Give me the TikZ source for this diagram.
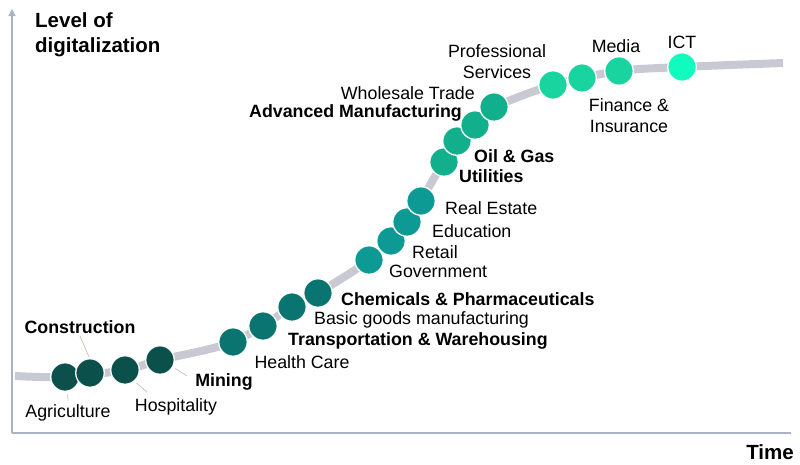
\documentclass[tikz,border=0pt]{standalone}
\usepackage{fontspec}
\setmainfont{Liberation Sans}
\usetikzlibrary{arrows.meta}
\definecolor{axisgray}{HTML}{A6B4C4}
\definecolor{trackgray}{HTML}{C9C9D3}
\definecolor{leadgray}{HTML}{C8C8C0}
\definecolor{stageA}{HTML}{0B504A}
\definecolor{stageB}{HTML}{0A7570}
\definecolor{stageC}{HTML}{0E9A94}
\definecolor{stageD}{HTML}{12AF8C}
\definecolor{stageE}{HTML}{19D49F}
\definecolor{stageF}{HTML}{12FBBE}
\begin{document}
\begin{tikzpicture}[x=1pt,y=-1pt,
  axis/.style={draw=axisgray, line width=1.4pt},
  track/.style={draw=trackgray, line width=8pt},
  dot/.style={circle, minimum size=28.5pt, inner sep=0pt, draw=white, line width=1.3pt},
  lab/.style={inner sep=0pt, yshift=-1.2pt, font=\fontsize{17.8}{21}\selectfont},
  blab/.style={lab, font=\fontsize{17.8}{21}\selectfont\bfseries},
  head/.style={inner sep=0pt, font=\fontsize{20.5}{25}\selectfont\bfseries},
  leader/.style={draw=leadgray, line width=0.8pt}]
\useasboundingbox (0,0) rectangle (800,464);

% axes
\coordinate (origin) at (12,433);
\coordinate (ytop) at (12,9);
\coordinate (xend) at (791,433);
\draw[axis, -{Triangle[width=7pt,length=7pt]}] (origin) -- (ytop);
\draw[axis] (origin) -- (xend);

% adoption curve
\draw[track] plot[smooth, tension=0.5] coordinates {
  (15,376) (65,377) (125,370) (160,360) (233,342) (292,307) (318,293)
  (369,260) (407,222) (421,201) (444,162) (475,125) (495,107)
  (553,85) (619,71) (682,67) (783,63)};

% sectors along the curve
\node[dot, fill=stageA] (c1) at (65,377) {};
\node[dot, fill=stageA] (c2) at (90,373) {};
\node[dot, fill=stageA] (c3) at (125,370) {};
\node[dot, fill=stageA] (c4) at (160,360) {};
\node[dot, fill=stageB] (c5) at (233,342) {};
\node[dot, fill=stageB] (c6) at (263,326) {};
\node[dot, fill=stageB] (c7) at (292,307) {};
\node[dot, fill=stageB] (c8) at (318,293) {};
\node[dot, fill=stageC] (c9) at (369,260) {};
\node[dot, fill=stageC] (c10) at (391,241) {};
\node[dot, fill=stageC] (c11) at (407,222) {};
\node[dot, fill=stageC] (c12) at (421,201) {};
\node[dot, fill=stageD] (c13) at (444,162) {};
\node[dot, fill=stageD] (c14) at (457,141) {};
\node[dot, fill=stageD] (c15) at (475,125) {};
\node[dot, fill=stageD] (c16) at (494,107) {};
\node[dot, fill=stageE] (c17) at (553,85) {};
\node[dot, fill=stageE] (c18) at (582,78) {};
\node[dot, fill=stageE] (c19) at (619,71) {};
\node[dot, fill=stageF] (c20) at (682,67) {};

% axis titles
\node[head, anchor=north west, align=left] (ylab) at (35,12) {Level of\\digitalization};
\node[head, anchor=east] (xlab) at (794,452) {Time};

% sector labels
\node[blab] (lCon) at (80,326) {Construction};
\node[lab] (lAgr) at (68,412) {Agriculture};
\node[lab] (lHos) at (176,406) {Hospitality};
\node[blab] (lMin) at (224,381) {Mining};
\node[lab] (lHea) at (302,361) {Health Care};
\node[blab, anchor=west] (lTra) at (288,340) {Transportation \& Warehousing};
\node[lab, anchor=west] (lBas) at (314,319) {Basic goods manufacturing};
\node[blab, anchor=west] (lChe) at (341,298) {Chemicals \& Pharmaceuticals};
\node[lab, anchor=west] (lGov) at (389,270) {Government};
\node[lab, anchor=west] (lRet) at (412,251) {Retail};
\node[lab, anchor=west] (lEdu) at (432,230) {Education};
\node[lab, anchor=west] (lRea) at (445,207) {Real Estate};
\node[blab, anchor=west] (lUti) at (459,175) {Utilities};
\node[blab, anchor=west] (lOil) at (474,155) {Oil \& Gas};
\node[blab, anchor=east] (lAdv) at (462,112) {Advanced Manufacturing};
\node[lab, anchor=east] (lWho) at (475,92) {Wholesale Trade};
\node[lab, align=center] (lPro) at (497,60) {Professional\\Services};
\node[lab, align=center] (lFin) at (629,114) {Finance \&\\Insurance};
\node[lab] (lMed) at (616,45) {Media};
\node[lab] (lICT) at (682,41) {ICT};

% leader lines
\coordinate (tCon) at (89,357);
\coordinate (tAgr) at (68,401);
\coordinate (tHos) at (147,392);
\coordinate (tMin) at (187,376);
\draw[leader] ([yshift=-2pt]lCon.south) -- (tCon);
\draw[leader, shorten <=2.5pt] (c1.-80) -- (tAgr);
\draw[leader, shorten <=2.5pt] (c3.-50) -- (tHos);
\draw[leader, shorten <=2.5pt] (c4.-28) -- (tMin);
\end{tikzpicture}
\end{document}
